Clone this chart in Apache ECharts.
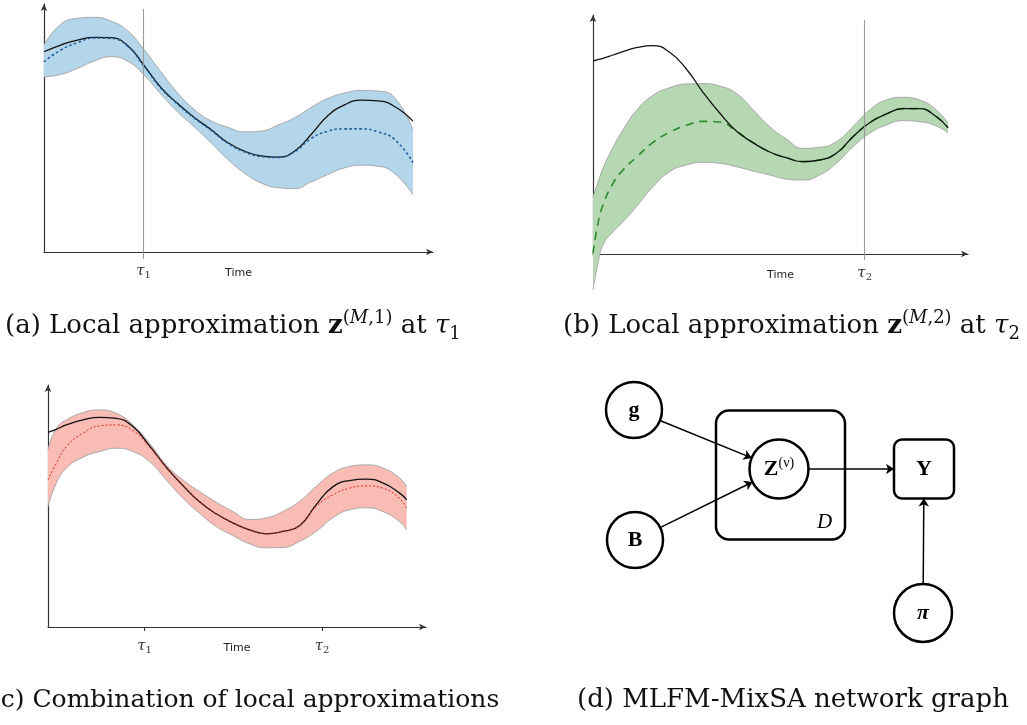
<!DOCTYPE html>
<html><head><meta charset="utf-8">
<script src="https://cdn.jsdelivr.net/npm/echarts@6/dist/echarts.min.js"></script>
<style>html,body{margin:0;padding:0;background:#fff}#c{width:1027px;height:725px}</style>
</head><body><div id="c"></div>
<script>
// ---------- Panel (a): local approximation at tau1 ----------
const timeA  = [0,50,100,150,200,250,300,350,400,450,500,550,600,650,700,750,800,850,900,950,1000,1050,1105];
const truthA = [600,620,635,643,642,619,558,493,445,403,367,328,302,288,284,302,352,408,441,455,453,436,392];
const meanA  = [570,605,627,641,640,617,556,491,443,401,365,326,300,286,283,300,340,362,369,369,360,337,268];
const upperA = [620,682,700,703,692,663,606,540,477,427,393,374,360,362,380,402,433,460,476,484,482,462,365];
const lowerA = [525,532,550,572,585,572,530,473,420,375,328,278,237,207,193,190,210,232,252,260,257,235,172];
const tauA = [298];
const tauLabA = ['1'];

// ---------- Panel (b): local approximation at tau2 ----------
const timeB  = [0,15,30,60,90,130,180,230,280,330,380,430,480,530,580,630,680,730,780,830,880,930,980,1030,1065];
const truthB = [579,583,587,597,607,619,625,605,555,485,423,369,334,306,289,277,282,302,352,394,420,436,436,412,379];
const meanB  = [2,92,147,212,252,290,335,365,386,398,396,369,334,306,289,277,282,302,352,394,420,436,436,412,379];
const upperB = [172,215,257,320,372,430,476,499,510,511,504,482,433,382,345,317,320,337,382,432,462,470,462,432,392];
const lowerB = [-108,-28,27,67,97,142,202,247,267,275,272,262,249,237,225,222,237,272,322,362,387,400,397,384,364];
const tauB = [815];
const tauLabB = ['2'];

// ---------- Panel (c): combination ----------
const timeC  = [0,25,55,105,155,205,255,305,355,405,455,505,555,605,655,705,755,805,855,905,955,1005,1055,1077];
const truthC = [585,594,607,622,630,627,602,544,480,425,376,340,313,292,280,287,304,367,421,440,444,433,403,382];
const meanC  = [442,492,542,582,604,607,590,540,480,425,376,340,313,292,280,287,304,362,397,417,424,417,387,357];
const upperC = [532,597,622,644,652,642,607,552,487,442,407,375,347,323,328,347,377,422,462,482,487,478,448,422];
const lowerC = [362,432,477,510,527,537,527,497,442,387,342,302,275,250,238,239,257,287,328,352,358,347,317,292];
const tauC = [290,823];
const tauLabC = ['1','2'];

// ---------- Panel (d): network graph ----------
const nodeNames = ['g','B','Z','Y','π'];
const nodeX = [54,55,199,344,343];
const nodeY = [40,170,99,99,243];
const plateX = [200.5];
const plateY = [105];
const plateLabel = ['D'];
const edgeFrom = ['g','B','Z','π'];
const edgeTo   = ['Z','Z','Y','Y'];

// ---------- Captions ----------
const captions = [
  '{n|(a) Local approximation }{bz|z}{sup|(}{supi|M}{sup|,1)}{n| at }{it|τ}{sub|1}',
  '{n|(b) Local approximation }{bz|z}{sup|(}{supi|M}{sup|,2)}{n| at }{it|τ}{sub|2}',
  '{n|(c) Combination of local approximations}',
  '{n|(d) MLFM-MixSA network graph}'
];

const pairs = (t, v) => t.map((x, i) => [x, v[i]]);
const pairsYX = (t, v) => t.map((x, i) => [v[i], x]);
const diff = (u, l) => u.map((x, i) => x - l[i]);

const CAPFONT = 'DejaVu Serif';
function capRich(sz) {
  return {
    n:   {fontFamily: CAPFONT, fontSize: sz, fontWeight: 'normal', lineHeight: 34, verticalAlign: 'middle', color: '#111'},
    bz:  {fontFamily: CAPFONT, fontSize: sz, fontWeight: 'bold', lineHeight: 34, verticalAlign: 'middle', color: '#111'},
    sup: {fontFamily: CAPFONT, fontSize: 18, fontWeight: 'normal', lineHeight: 19, verticalAlign: 'top', color: '#111'},
    supi:{fontFamily: CAPFONT, fontSize: 18, fontWeight: 'normal', lineHeight: 19, fontStyle: 'italic', verticalAlign: 'top', color: '#111'},
    it:  {fontFamily: CAPFONT, fontSize: sz, fontWeight: 'normal', lineHeight: 34, fontStyle: 'italic', verticalAlign: 'middle', color: '#111'},
    sub: {fontFamily: CAPFONT, fontSize: 18, fontWeight: 'normal', lineHeight: 24, verticalAlign: 'bottom', color: '#111'}
  };
}
const tauRich = {
  t: {fontFamily: 'DejaVu Serif', fontStyle: 'italic', fontSize: 15, lineHeight: 18, verticalAlign: 'middle', color: '#333'},
  s: {fontFamily: 'DejaVu Serif', fontSize: 10, lineHeight: 12, verticalAlign: 'bottom', color: '#333'}
};

function mkX(grid, max, tau, tauLab, tickLen, tickColor) {
  return {
    type: 'value', gridIndex: grid, min: 0, max: max,
    splitLine: {show: false},
    axisLine: {show: true, onZero: false, symbol: ['none', 'arrow'], symbolSize: [5, 7], lineStyle: {color: '#333', width: 1.2}},
    axisTick: {show: true, customValues: tau, length: tickLen, lineStyle: {color: tickColor, width: 1.1}},
    axisLabel: {show: true, customValues: tau, formatter: v => { const i = tau.indexOf(v); return i >= 0 ? '{t|τ}{s|' + tauLab[i] + '}' : ''; },
      margin: 10, rich: tauRich},
    name: 'Time', nameLocation: 'middle', nameGap: 16, nameMoveOverlap: false,
    nameTextStyle: {fontFamily: 'DejaVu Sans', fontSize: 11, color: '#222'}
  };
}
function mkY(grid, min, max) {
  return {
    type: 'value', gridIndex: grid, min: min, max: max,
    splitLine: {show: false}, axisTick: {show: false}, axisLabel: {show: false},
    axisLine: {show: true, symbol: ['none', 'arrow'], symbolSize: [5, 7], lineStyle: {color: '#333', width: 1.2}}
  };
}
const SMOOTH = 0.5;
function bandSeries(grid, stack, t, up, lo, fill) {
  const common = {type: 'line', xAxisIndex: grid, yAxisIndex: grid, stack: stack, stackStrategy: 'all',
    encode: {x: 1, y: 0}, clip: false,
    showSymbol: false, symbol: 'none', smooth: SMOOTH, silent: true, animation: false,
    lineStyle: {color: '#a8a8a8', width: 1}};
  return [
    Object.assign({}, common, {data: pairsYX(t, lo)}),
    Object.assign({}, common, {data: pairsYX(t, diff(up, lo)), areaStyle: {color: fill, opacity: 1}})
  ];
}
function curve(grid, t, v, color, width, type, extra) {
  return Object.assign({type: 'line', xAxisIndex: grid, yAxisIndex: grid, data: pairs(t, v), clip: false,
    showSymbol: false, symbol: 'none', smooth: SMOOTH, silent: true, animation: false,
    lineStyle: {color: color, width: width, type: type}}, extra || {});
}
function vline(x, y0, y1, color, width) {
  return [
    {coord: [x, y0], symbol: 'none', lineStyle: {color: color, width: width, type: 'solid'}},
    {coord: [x, y1], symbol: 'none', lineStyle: {color: color, width: width, type: 'solid'}}
  ];
}

// graph helpers
const idx = n => nodeNames.indexOf(n);
const RADIUS = {g: 28, B: 28, Z: 29.5, 'π': 29};
function exitDist(name, ux, uy) {
  if (name === 'Y') return Math.min(30 / Math.max(Math.abs(ux), 1e-6), 29.5 / Math.max(Math.abs(uy), 1e-6));
  return RADIUS[name];
}
const edgeData = edgeFrom.map((f, k) => {
  const a = idx(f), b = idx(edgeTo[k]);
  const dx = nodeX[b] - nodeX[a], dy = nodeY[b] - nodeY[a];
  const L = Math.hypot(dx, dy), ux = dx / L, uy = dy / L;
  const s = exitDist(f, ux, uy), e = exitDist(edgeTo[k], ux, uy);
  return {coords: [[nodeX[a] + ux * s, nodeY[a] + uy * s], [nodeX[b] - ux * e, nodeY[b] - uy * e]]};
});
const nodeRich = {
  b:  {fontFamily: 'Liberation Serif', fontWeight: 'bold', fontSize: 22, lineHeight: 26, verticalAlign: 'middle', color: '#000'},
  bi: {fontFamily: 'Liberation Serif', fontWeight: 'bold', fontStyle: 'italic', fontSize: 22, lineHeight: 26, verticalAlign: 'middle', color: '#000'},
  s:  {fontFamily: 'Liberation Serif', fontSize: 14, lineHeight: 14, verticalAlign: 'top', color: '#000'}
};
const nodeText = n => n === 'Z' ? '{b|Z}{s|(ν)}' : (n === 'π' ? '{bi|π}' : '{b|' + n + '}');

const capTitle = (left, top, text, sz) => ({left: left, top: top, padding: 0, text: text,
  textStyle: {fontWeight: 'normal', fontFamily: CAPFONT, fontSize: sz, rich: capRich(sz)}});

const option = {
  backgroundColor: '#fff',
  animation: false,
  title: [
    capTitle(5, 309, captions[0], 26),
    capTitle(563, 309, captions[1], 26),
    capTitle(-9, 683, captions[2], 25),
    capTitle(577, 683, captions[3], 26)
  ],
  grid: [
    {left: 44, top: 4, width: 389, height: 248},
    {left: 593, top: 15, width: 375, height: 239},
    {left: 48, top: 385, width: 378, height: 242},
    {left: 580, top: 370, width: 420, height: 290}
  ],
  xAxis: [
    mkX(0, 1165, tauA, tauLabA, 7, '#999'),
    mkX(1, 1125, tauB, tauLabB, 6, '#999'),
    mkX(2, 1135, tauC, tauLabC, 4, '#333'),
    {type: 'value', gridIndex: 3, min: 0, max: 420, show: false}
  ],
  yAxis: [
    mkY(0, 0, 743),
    mkY(1, 0, 717),
    mkY(2, 0, 727),
    {type: 'value', gridIndex: 3, min: 0, max: 290, inverse: true, show: false}
  ],
  series: [
    // (a)
    ...bandSeries(0, 'a', timeA, upperA, lowerA, '#b4d6ea'),
    curve(0, timeA, truthA, '#111', 1.3, 'solid', {markLine: {silent: true, animation: false, label: {show: false}, symbol: 'none',
      data: [vline(tauA[0], 0, 728, '#999', 1.1)]}}),
    curve(0, timeA, meanA, '#1f5f99', 1.6, [2.5, 2.5]),
    // (b)
    ...bandSeries(1, 'b', timeB, upperB, lowerB, '#b5d8b3'),
    curve(1, timeB, meanB, '#2a8a2a', 1.6, [8, 6]),
    curve(1, timeB, truthB, '#111', 1.3, 'solid', {markLine: {silent: true, animation: false, label: {show: false}, symbol: 'none',
      data: [vline(tauB[0], 0, 702, '#999', 1.1)]}}),
    // (c)
    ...bandSeries(2, 'c', timeC, upperC, lowerC, '#f8bcb5'),
    curve(2, timeC, truthC, '#111', 1.3, 'solid'),
    curve(2, timeC, meanC, '#e8231b', 1, [2, 2]),
    // (d) plate
    {type: 'custom', coordinateSystem: 'cartesian2d', xAxisIndex: 3, yAxisIndex: 3, silent: true, animation: false,
      data: plateX.map((x, i) => [x, plateY[i]]),
      renderItem: (params, api) => {
        const c = api.coord([api.value(0), api.value(1)]);
        return {type: 'group', children: [
          {type: 'rect', shape: {x: c[0] - 64.5, y: c[1] - 64.5, width: 129, height: 129, r: 13},
            style: {fill: 'none', stroke: '#000', lineWidth: 2.5}},
          {type: 'text', style: {text: plateLabel[params.dataIndex], x: c[0] + 44, y: c[1] + 47,
            align: 'center', verticalAlign: 'middle', textAlign: 'center', textVerticalAlign: 'middle',
            fontFamily: 'Liberation Serif', fontStyle: 'italic', fontSize: 21, fill: '#000'}}
        ]};
      }},
    // (d) edges
    {type: 'lines', coordinateSystem: 'cartesian2d', xAxisIndex: 3, yAxisIndex: 3, silent: true, animation: false,
      symbol: ['none', 'arrow'], symbolSize: 8, lineStyle: {color: '#000', width: 1.5, opacity: 1, curveness: 0},
      data: edgeData},
    // (d) nodes
    {type: 'custom', coordinateSystem: 'cartesian2d', xAxisIndex: 3, yAxisIndex: 3, silent: true, animation: false,
      data: nodeNames.map((n, i) => ({name: n, value: [nodeX[i], nodeY[i]]})),
      renderItem: (params, api) => {
        const c = api.coord([api.value(0), api.value(1)]);
        const n = nodeNames[params.dataIndex];
        const shp = n === 'Y'
          ? {type: 'rect', shape: {x: c[0] - 30, y: c[1] - 29.5, width: 60, height: 59, r: 8}}
          : {type: 'circle', shape: {cx: c[0], cy: c[1], r: RADIUS[n]}};
        shp.style = {fill: '#fff', stroke: '#000', lineWidth: 2.5};
        return {type: 'group', children: [shp,
          {type: 'text', style: {text: nodeText(n), rich: nodeRich, x: c[0], y: c[1],
            align: 'center', verticalAlign: 'middle', textAlign: 'center', textVerticalAlign: 'middle'}}]};
      }}
  ]
};
const chart = echarts.init(document.getElementById('c'), null, {renderer: 'canvas'});
chart.setOption(option);
</script></body></html>
